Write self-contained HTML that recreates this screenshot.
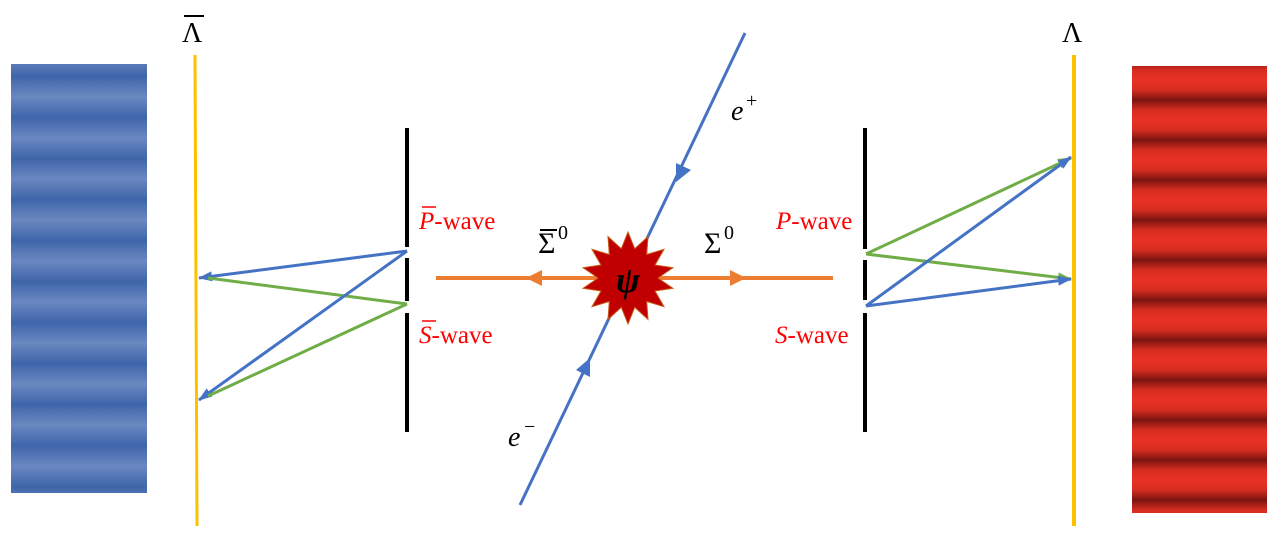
<!DOCTYPE html>
<html><head><style>
html,body{margin:0;padding:0;background:#fff;width:1278px;height:542px;overflow:hidden}
svg{display:block}
text{font-family:"Liberation Serif",serif}
</style></head><body>
<svg width="1278" height="542" viewBox="0 0 1278 542" xmlns="http://www.w3.org/2000/svg">
<defs>
<pattern id="bp" x="0" y="56" width="10" height="41" patternUnits="userSpaceOnUse">
<rect width="10" height="41" fill="url(#bg)"/>
</pattern>
<linearGradient id="bg" x1="0" y1="0" x2="0" y2="1">
<stop offset="0" stop-color="#6a88c0"/><stop offset="0.5" stop-color="#3f65aa"/><stop offset="1" stop-color="#6a88c0"/>
</linearGradient>
<pattern id="rp" x="0" y="80" width="10" height="40" patternUnits="userSpaceOnUse">
<rect width="10" height="40" fill="url(#rg)"/>
</pattern>
<linearGradient id="rg" x1="0" y1="0" x2="0" y2="1">
<stop offset="0" stop-color="#e83225"/><stop offset="0.25" stop-color="#d62c20"/><stop offset="0.5" stop-color="#7a1510"/><stop offset="0.75" stop-color="#d62c20"/><stop offset="1" stop-color="#e83225"/>
</linearGradient>
<marker id="ab" markerWidth="14" markerHeight="10" refX="13" refY="5" orient="auto" markerUnits="userSpaceOnUse"><path d="M0,0 L14,5 L0,10 Z" fill="#4472c4"/></marker>
<marker id="ag" markerWidth="14" markerHeight="10" refX="13" refY="5" orient="auto" markerUnits="userSpaceOnUse"><path d="M0,0 L14,5 L0,10 Z" fill="#70ad47"/></marker>
</defs>
<rect x="11" y="64" width="136" height="429" fill="url(#bp)"/>
<rect x="1132" y="66" width="135" height="447" fill="url(#rp)"/>
<line x1="195" y1="55" x2="197" y2="526" stroke="#ffc000" stroke-width="3"/>
<line x1="1074" y1="55" x2="1074" y2="526" stroke="#ffc000" stroke-width="4"/>
<g stroke="#000" stroke-width="4">
<line x1="407" y1="128" x2="407" y2="247"/><line x1="407" y1="258" x2="407" y2="301"/><line x1="407" y1="313" x2="407" y2="432"/>
<line x1="865" y1="128" x2="865" y2="249"/><line x1="865" y1="260" x2="865" y2="300"/><line x1="865" y1="313" x2="865" y2="432"/>
</g>
<g stroke-width="3" fill="none">
<line x1="407" y1="251" x2="199" y2="278" stroke="#4472c4" marker-end="url(#ab)"/>
<line x1="407" y1="304" x2="208" y2="278" stroke="#70ad47"/>
<line x1="407" y1="251" x2="199" y2="400" stroke="#4472c4" marker-end="url(#ab)"/>
<line x1="407" y1="304" x2="208" y2="396" stroke="#70ad47"/>
<line x1="866" y1="254" x2="1071" y2="158" stroke="#70ad47" marker-end="url(#ag)"/>
<line x1="866" y1="254" x2="1071" y2="279" stroke="#70ad47" marker-end="url(#ag)"/>
<line x1="866" y1="306" x2="1071" y2="157" stroke="#4472c4" marker-end="url(#ab)"/>
<line x1="866" y1="306" x2="1071" y2="279" stroke="#4472c4" marker-end="url(#ab)"/>
</g>
<line x1="745" y1="33" x2="520" y2="505" stroke="#4472c4" stroke-width="3"/>
<path d="M676,182 L676,163 L691,170 Z" fill="#4472c4"/>
<path d="M590,358 L590,377 L576,370 Z" fill="#4472c4"/>
<line x1="436" y1="278" x2="833" y2="278" stroke="#ed7d31" stroke-width="4"/>
<path d="M526,278 L542,270 L542,286 Z" fill="#ed7d31"/>
<path d="M746,278 L730,270 L730,286 Z" fill="#ed7d31"/>
<polygon fill="#c00000" stroke="#c55a11" stroke-width="1" points="628,232 634.7,248.7 648,236.6 646.7,254.5 664,249.3 655,265 672.9,267.7 658,278 672.9,288.3 655,291 664,306.7 646.7,301.5 648,319.4 634.7,307.3 628,324 621.3,307.3 608,319.4 609.3,301.5 592,306.7 601,291 583.1,288.3 598,278 583.1,267.7 601,265 592,249.3 609.3,254.5 608,236.6 621.3,248.7"/>
<text x="628" y="292" font-size="36" font-style="italic" text-anchor="middle" font-weight="bold">ψ</text>
<text x="538" y="253" font-size="30">Σ</text><line x1="540" y1="230" x2="557" y2="230" stroke="#000" stroke-width="2"/><text x="558" y="239" font-size="20">0</text>
<text x="704" y="253" font-size="30">Σ</text><text x="724" y="239" font-size="20">0</text>
<text x="731" y="120" font-size="28" font-style="italic">e</text><text x="746" y="107" font-size="20">+</text>
<text x="508" y="446" font-size="28" font-style="italic">e</text><text x="524" y="433" font-size="20">−</text>
<text x="182" y="42" font-size="28">Λ</text><line x1="184" y1="16" x2="204" y2="16" stroke="#000" stroke-width="2"/>
<text x="1062" y="42" font-size="28">Λ</text>
<g fill="#ff0000" font-size="25">
<text x="419" y="229"><tspan font-style="italic">P</tspan>-wave</text><line x1="422" y1="207" x2="436" y2="207" stroke="#ff0000" stroke-width="1.5"/>
<text x="419" y="343"><tspan font-style="italic">S</tspan>-wave</text><line x1="422" y1="321" x2="436" y2="321" stroke="#ff0000" stroke-width="1.5"/>
<text x="776" y="229"><tspan font-style="italic">P</tspan>-wave</text>
<text x="775" y="343"><tspan font-style="italic">S</tspan>-wave</text>
</g>
</svg>
</body></html>
